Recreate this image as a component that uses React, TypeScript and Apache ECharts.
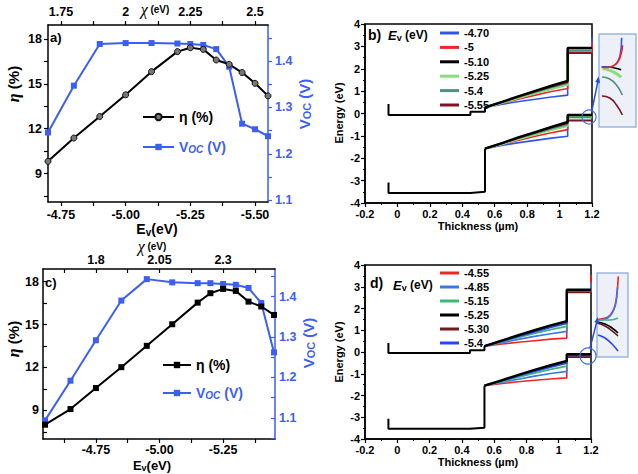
import React, { useEffect, useRef } from 'react';
import * as echarts from 'echarts';

const FONT = '"Liberation Sans", Arial, Helvetica, sans-serif';
const SERIF = '"Liberation Serif", "DejaVu Serif", serif';
const BLUE = '#3d5ef2';

// ---------- Panel a ----------
const aEv = [-4.7, -4.8, -4.9, -5.0, -5.1, -5.2, -5.25, -5.3, -5.35, -5.4, -5.45, -5.5, -5.55];
const aEta = [9.82, 11.38, 12.82, 14.27, 15.82, 17.16, 17.42, 17.31, 16.6, 16.31, 15.76, 15.04, 14.2];
const aVoc = [1.246, 1.347, 1.437, 1.439, 1.439, 1.438, 1.437, 1.435, 1.426, 1.388, 1.265, 1.253, 1.238];
const aEvLabels = [-4.75, -5.0, -5.25, -5.5];
const aEvTicks = [-4.75, -4.875, -5.0, -5.125, -5.25, -5.375, -5.5];
const aChiLabels = [1.75, 2, 2.25, 2.5];
const aChiTicks = [1.75, 1.875, 2, 2.125, 2.25, 2.375, 2.5];
const aEtaLabels = [9, 12, 15, 18];
const aEtaTicks = [7.5, 9, 10.5, 12, 13.5, 15, 16.5, 18];
const aVocLabels = [1.1, 1.2, 1.3, 1.4];
const aVocTicks = [1.1, 1.15, 1.2, 1.25, 1.3, 1.35, 1.4, 1.45];

// ---------- Panel c ----------
const cEv = [-4.55, -4.65, -4.75, -4.85, -4.95, -5.05, -5.15, -5.2, -5.25, -5.3, -5.35, -5.4, -5.45];
const cEta = [8.0, 9.09, 10.56, 12.02, 13.51, 15.02, 16.53, 17.19, 17.49, 17.35, 16.6, 16.26, 15.67];
const cVoc = [1.094, 1.192, 1.292, 1.39, 1.443, 1.435, 1.433, 1.433, 1.431, 1.429, 1.421, 1.384, 1.262];
const cEvLabels = [-4.75, -5.0, -5.25];
const cEvTicks = [-4.625, -4.75, -4.875, -5.0, -5.125, -5.25, -5.375];
const cChiLabels = [1.8, 2.05, 2.3];
const cChiTicks = [1.675, 1.8, 1.925, 2.05, 2.175, 2.3, 2.425];
const cEtaLabels = [9, 12, 15, 18];
const cEtaTicks = [7.5, 9, 10.5, 12, 13.5, 15, 16.5, 18];
const cVocLabels = [1.1, 1.2, 1.3, 1.4];
const cVocTicks = [1.05, 1.1, 1.15, 1.2, 1.25, 1.3, 1.35, 1.4, 1.45];

// ---------- Band diagrams (b, d) ----------
const bandX = [0.54, 0.65, 0.75, 0.85, 0.95, 1.05];
const leftX = [-0.055, -0.055, 0.45, 0.45, 0.54, 0.54];

const bLabels = ['-4.70', '-5', '-5.10', '-5.25', '-5.4', '-5.55'];
const bColors = ['#2f55ea', '#f02626', '#000000', '#86e07a', '#4f8f88', '#7d1426'];
const bWidths = [1.6, 1.6, 2.4, 3, 1.6, 1.6];
const bCB = [
  [0.27, 0.42, 0.54, 0.64, 0.74, 0.82],
  [0.27, 0.47, 0.65, 0.82, 0.98, 1.12],
  [0.27, 0.53, 0.78, 1.01, 1.24, 1.46],
  [0.27, 0.5, 0.72, 0.92, 1.12, 1.3],
  [0.27, 0.51, 0.74, 0.95, 1.16, 1.35],
  [0.27, 0.52, 0.76, 0.98, 1.2, 1.4],
];
const bVB = [
  [-1.57, -1.42, -1.3, -1.2, -1.1, -1.02],
  [-1.57, -1.37, -1.19, -1.02, -0.86, -0.72],
  [-1.57, -1.31, -1.06, -0.83, -0.6, -0.38],
  [-1.57, -1.34, -1.12, -0.92, -0.72, -0.54],
  [-1.57, -1.33, -1.1, -0.89, -0.68, -0.49],
  [-1.57, -1.32, -1.08, -0.86, -0.64, -0.44],
];
const bCBTop = [2.93, 2.72, 2.93, 2.84, 2.8, 2.7];
const bVBTop = [-0.07, -0.3, -0.07, -0.14, -0.18, -0.32];
const bSpike = [3.4, 3.2, null, null, null, null];
const bOrder = [0, 1, 3, 4, 5, 2];
const bCBLeft = [0.42, -0.07, -0.07, 0.08, 0.08, 0.27];
const bVBLeft = [-3.08, -3.55, -3.55, -3.52, -3.5, -1.57];

const dLabels = ['-4.55', '-4.85', '-5.15', '-5.25', '-5.30', '-5.4'];
const dColors = ['#f02626', '#3a78e6', '#3cb878', '#000000', '#6e1a1a', '#2a44f5'];
const dWidths = [1.6, 1.6, 1.8, 2.4, 1.8, 1.8];
const dCB = [
  [0.27, 0.37, 0.45, 0.52, 0.59, 0.64],
  [0.27, 0.43, 0.58, 0.72, 0.84, 0.95],
  [0.27, 0.47, 0.67, 0.86, 1.03, 1.18],
  [0.27, 0.53, 0.77, 1.0, 1.22, 1.42],
  [0.27, 0.51, 0.74, 0.96, 1.17, 1.36],
  [0.27, 0.5, 0.72, 0.93, 1.13, 1.32],
];
const dVB = [
  [-1.55, -1.45, -1.37, -1.3, -1.24, -1.19],
  [-1.55, -1.39, -1.25, -1.11, -0.99, -0.89],
  [-1.55, -1.36, -1.16, -0.97, -0.8, -0.65],
  [-1.55, -1.29, -1.05, -0.82, -0.61, -0.41],
  [-1.55, -1.31, -1.08, -0.86, -0.65, -0.47],
  [-1.55, -1.32, -1.1, -0.89, -0.69, -0.51],
];
const dCBTop = [2.76, 2.8, 2.8, 2.86, 2.74, 2.82];
const dVBTop = [-0.22, -0.16, -0.15, -0.1, -0.24, -0.15];
const dSpike = [3.55, 3.2, null, null, null, null];
const dOrder = [0, 1, 2, 4, 5, 3];
const dCBLeft = [0.41, -0.05, -0.05, 0.08, 0.08, 0.27];
const dVBLeft = [-3.07, -3.53, -3.53, -3.5, -3.48, -1.55];

// ---------- Insets (zoom near x = 1.2 µm, valence band) ----------
const ibSeries = [
  { c: 4, x: [1.1732, 1.1816, 1.1889, 1.1953], y: [-0.062, -0.084, -0.148, -0.256] },
  { c: 5, x: [1.1732, 1.1816, 1.1889, 1.1953], y: [-0.267, -0.288, -0.363, -0.471] },
  { c: 3, x: [1.174, 1.18, 1.187, 1.194], y: [0.03, 0.015, -0.015, -0.065] },
  { c: 2, x: [1.173, 1.18, 1.187, 1.194], y: [0.045, 0.045, 0.035, 0.015] },
  { c: 0, x: [1.173, 1.18, 1.186, 1.19, 1.193, 1.1945], y: [0.045, 0.045, 0.06, 0.1, 0.18, 0.36] },
  { c: 1, x: [1.173, 1.18, 1.186, 1.191, 1.194, 1.1955], y: [0.04, 0.04, 0.06, 0.11, 0.19, 0.28] },
];
const idSeries = [
  { c: 0, x: [1.172, 1.18, 1.187, 1.192, 1.195, 1.1975], y: [-0.15, -0.14, -0.1, -0.02, 0.1, 0.36] },
  { c: 1, x: [1.172, 1.18, 1.187, 1.192, 1.195, 1.1965], y: [-0.16, -0.15, -0.11, -0.03, 0.08, 0.23] },
  { c: 4, x: [1.17, 1.1803, 1.1894, 1.1971], y: [-0.195, -0.231, -0.29, -0.35] },
  { c: 3, x: [1.17, 1.1803, 1.1894, 1.1971], y: [-0.183, -0.207, -0.255, -0.314] },
  { c: 2, x: [1.1739, 1.1868, 1.1971], y: [-0.16, -0.16, -0.136] },
  { c: 5, x: [1.1713, 1.1803, 1.1894, 1.1971], y: [-0.338, -0.374, -0.445, -0.529] },
];

const pairs = (xs: number[], ys: number[]) => xs.map((x, i) => [x, ys[i]]);

const lblBase = { fontFamily: FONT, fontWeight: 'bold' as const, color: '#000' };
const blackLine = { show: true, onZero: false, lineStyle: { color: '#000', width: 1.5 } };
const blueLine = { show: true, onZero: false, lineStyle: { color: BLUE, width: 1.5 } };

function customAxis(o: any) {
  const color = o.color || '#000';
  return {
    gridIndex: o.grid,
    type: 'value',
    position: o.position,
    min: o.min,
    max: o.max,
    inverse: !!o.inverse,
    axisLine: color === '#000' ? blackLine : blueLine,
    axisTick: { show: true, inside: !!o.inside, length: 4, customValues: o.ticks, lineStyle: { color, width: 1.2 } },
    axisLabel: {
      show: true,
      customValues: o.labels,
      formatter: o.fmt,
      fontSize: 12.5,
      margin: o.margin,
      ...lblBase,
      color,
    },
    splitLine: { show: false },
  };
}

function bandXAxis(grid: number) {
  return {
    gridIndex: grid,
    type: 'value',
    min: -0.2,
    max: 1.2,
    interval: 0.2,
    axisLine: blackLine,
    axisTick: { show: true, length: 4, lineStyle: { color: '#000', width: 1.2 } },
    minorTick: { show: true, splitNumber: 2, length: 2, lineStyle: { color: '#000', width: 1 } },
    axisLabel: { fontSize: 11, margin: 5, ...lblBase, formatter: (v: number) => String(Math.round(v * 10) / 10) },
    splitLine: { show: false },
  };
}
function bandYAxis(grid: number) {
  return {
    gridIndex: grid,
    type: 'value',
    min: -4,
    max: 4,
    interval: 1,
    axisLine: blackLine,
    axisTick: { show: true, length: 4, lineStyle: { color: '#000', width: 1.2 } },
    minorTick: { show: true, splitNumber: 2, length: 2, lineStyle: { color: '#000', width: 1 } },
    axisLabel: { fontSize: 11, margin: 5, ...lblBase, formatter: (v: number) => String(Math.round(v)) },
    splitLine: { show: false },
  };
}

function bandSeries(
  prefix: string, axis: number, colors: string[], widths: number[],
  cb: number[][], vb: number[][], cbTop: number[], vbTop: number[],
  spike: (number | null)[], order: number[], cbLeft: number[], vbLeft: number[]
) {
  const out: any[] = [];
  order.forEach((i) => {
    const cbData: any[] = pairs(bandX, cb[i]);
    cbData.push([1.05, cbTop[i]], [1.2, cbTop[i]]);
    if (spike[i] != null) cbData.push([1.2, spike[i]]);
    const vbData: any[] = pairs(bandX, vb[i]);
    vbData.push([1.05, vbTop[i]], [1.2, vbTop[i]]);
    const common = {
      type: 'line', name: prefix + i, xAxisIndex: axis, yAxisIndex: axis, symbol: 'none',
      color: colors[i], lineStyle: { color: colors[i], width: widths[i] }, clip: false,
    };
    out.push({ ...common, data: cbData }, { ...common, data: vbData });
  });
  const base = {
    type: 'line', name: prefix + 'base', xAxisIndex: axis, yAxisIndex: axis, symbol: 'none',
    color: '#000', lineStyle: { color: '#000', width: 2 }, clip: false,
  };
  out.push({ ...base, data: pairs(leftX, cbLeft) }, { ...base, data: pairs(leftX, vbLeft) });
  return out;
}

function insetSeries(prefix: string, axis: number, list: any[], colors: string[]) {
  return list.map((s, k) => ({
    type: 'line', name: prefix + k, xAxisIndex: axis, yAxisIndex: axis, symbol: 'none', smooth: true,
    data: pairs(s.x, s.y), color: colors[s.c],
    lineStyle: { color: colors[s.c], width: colors[s.c] === '#86e07a' ? 3 : 1.6 },
  }));
}

const rb = (size: number, color = '#000', extra: any = {}) => ({
  fontFamily: FONT, fontWeight: 'bold', fontSize: size, fill: color, color, ...extra,
});

function T(x: number, y: number, text: string, rich: any, opts: any = {}) {
  return {
    type: 'text', x, y, rotation: opts.rot || 0, z: 100,
    style: {
      text, rich, align: opts.align || 'center', verticalAlign: 'middle',
      fontFamily: FONT, fontWeight: 'bold', fontSize: 13, fill: '#000',
    },
  };
}

function buildOption(): any {
  const etaRich = { i: rb(16, '#000', { fontStyle: 'italic', fontFamily: SERIF }), n: rb(15) };
  const vocRich = { n: rb(15, BLUE), s: rb(11, BLUE, { padding: [6, 0, 0, 0] }) };
  const chiRich = { i: rb(16, '#000', { fontStyle: 'italic', fontFamily: SERIF, fontWeight: 'normal' }), s: rb(10) };
  const evRich = { n: rb(14), s: rb(10, '#000', { padding: [6, 0, 0, 0] }) };
  const evRichC = { n: rb(13), s: rb(9, '#000', { padding: [5, 0, 0, 0] }) };
  const bandEvRich = {
    i: rb(13, '#000', { fontStyle: 'italic' }),
    s: rb(9, '#000', { padding: [6, 0, 0, 0] }),
    n: rb(12),
  };
  const legRich = {
    k: { ...lblBase, fontSize: 14, lineHeight: 16, color: '#000' },
    b: { ...lblBase, fontSize: 14, lineHeight: 16, color: BLUE },
    bs: { ...lblBase, fontSize: 10, color: BLUE, fontStyle: 'italic', padding: [5, 0, 0, 0] },
  };
  const legFmt = (n: string) => (n.startsWith('eta') ? '{k|η (%)}' : '{b|V}{bs|OC}{b| (V)}');

  const str = (v: number) => String(v);
  const fix2 = (v: number) => v.toFixed(2);
  const fix1 = (v: number) => v.toFixed(1);

  return {
    animation: false,
    backgroundColor: '#ffffff',
    textStyle: { fontFamily: FONT },
    grid: [
      { left: 48, top: 25, width: 220, height: 177 },
      { left: 365, top: 24, width: 227, height: 179, show: true, borderColor: '#000', borderWidth: 1.5, backgroundColor: 'transparent' },
      { left: 43, top: 269, width: 232, height: 170 },
      { left: 365, top: 265, width: 226, height: 174, show: true, borderColor: '#000', borderWidth: 1.5, backgroundColor: 'transparent' },
      { left: 599, top: 34, width: 37, height: 93, show: true, backgroundColor: '#edf0f6', borderColor: '#9bb6e4', borderWidth: 1.5 },
      { left: 597, top: 273, width: 31, height: 84, show: true, backgroundColor: '#edf0f6', borderColor: '#9bb6e4', borderWidth: 1.5 },
    ],
    xAxis: [
      customAxis({ grid: 0, position: 'bottom', min: -5.55, max: -4.7, inverse: true, ticks: aEvTicks, labels: aEvLabels, fmt: fix2, margin: 6 }),
      customAxis({ grid: 0, position: 'top', min: 1.7, max: 2.55, ticks: aChiTicks, labels: aChiLabels, fmt: str, margin: 7 }),
      bandXAxis(1),
      customAxis({ grid: 2, position: 'bottom', min: -5.454, max: -4.542, inverse: true, ticks: cEvTicks, labels: cEvLabels, fmt: fix2, margin: 4 }),
      customAxis({ grid: 2, position: 'top', min: 1.592, max: 2.504, ticks: cChiTicks, labels: cChiLabels, fmt: str, margin: 3, inside: true }),
      bandXAxis(3),
      { gridIndex: 4, type: 'value', min: 1.17, max: 1.21, show: false },
      { gridIndex: 5, type: 'value', min: 1.17, max: 1.21, show: false },
    ],
    yAxis: [
      customAxis({ grid: 0, position: 'left', min: 7.1, max: 18.94, ticks: aEtaTicks, labels: aEtaLabels, fmt: str, margin: 6 }),
      customAxis({ grid: 0, position: 'right', min: 1.096, max: 1.478, ticks: aVocTicks, labels: aVocLabels, fmt: fix1, margin: 7, color: BLUE }),
      bandYAxis(1),
      customAxis({ grid: 2, position: 'left', min: 7.0, max: 18.88, ticks: cEtaTicks, labels: cEtaLabels, fmt: str, margin: 4, inside: true }),
      customAxis({ grid: 2, position: 'right', min: 1.048, max: 1.468, ticks: cVocTicks, labels: cVocLabels, fmt: fix1, margin: 4, color: BLUE, inside: true }),
      bandYAxis(3),
      { gridIndex: 4, type: 'value', min: -0.6, max: 0.4, show: false },
      { gridIndex: 5, type: 'value', min: -0.6, max: 0.4, show: false },
    ],
    legend: [
      {
        left: 137, top: 104, orient: 'vertical', itemWidth: 31, itemHeight: 8, itemGap: 14, selectedMode: false,
        data: ['etaA', 'vocA'], formatter: legFmt, textStyle: { rich: legRich, lineHeight: 16 },
      },
      {
        left: 157, top: 352, orient: 'vertical', itemWidth: 28, itemHeight: 8, itemGap: 12, selectedMode: false,
        data: ['etaC', 'vocC'], formatter: legFmt, textStyle: { rich: legRich, lineHeight: 16 },
      },
      {
        left: 435, top: 21, orient: 'vertical', icon: 'rect', itemWidth: 19, itemHeight: 3, itemGap: 0.4, selectedMode: false,
        data: bLabels.map((_, i) => 'b' + i),
        formatter: (n: string) => bLabels[Number(n.slice(1))],
        textStyle: { ...lblBase, fontSize: 11, lineHeight: 14 },
      },
      {
        left: 435, top: 261, orient: 'vertical', icon: 'rect', itemWidth: 19, itemHeight: 3, itemGap: 0, selectedMode: false,
        data: dLabels.map((_, i) => 'd' + i),
        formatter: (n: string) => dLabels[Number(n.slice(1))],
        textStyle: { ...lblBase, fontSize: 11, lineHeight: 14 },
      },
    ],
    series: [
      {
        type: 'line', name: 'vocA', xAxisIndex: 0, yAxisIndex: 1, data: pairs(aEv, aVoc),
        symbol: 'rect', symbolSize: 6, color: BLUE, lineStyle: { color: BLUE, width: 2 }, itemStyle: { color: BLUE },
      },
      {
        type: 'line', name: 'etaA', xAxisIndex: 0, yAxisIndex: 0, data: pairs(aEv, aEta),
        symbol: 'circle', symbolSize: 6, color: '#000', lineStyle: { color: '#000', width: 2 },
        itemStyle: { color: '#777', borderColor: '#111', borderWidth: 1 },
      },
      {
        type: 'line', name: 'vocC', xAxisIndex: 3, yAxisIndex: 4, data: pairs(cEv, cVoc),
        symbol: 'rect', symbolSize: 6, color: BLUE, lineStyle: { color: BLUE, width: 2 }, itemStyle: { color: BLUE },
      },
      {
        type: 'line', name: 'etaC', xAxisIndex: 3, yAxisIndex: 3, data: pairs(cEv, cEta),
        symbol: 'rect', symbolSize: 6, color: '#000', lineStyle: { color: '#000', width: 2 }, itemStyle: { color: '#000' },
      },
      ...bandSeries('b', 2, bColors, bWidths, bCB, bVB, bCBTop, bVBTop, bSpike, bOrder, bCBLeft, bVBLeft),
      ...bandSeries('d', 5, dColors, dWidths, dCB, dVB, dCBTop, dVBTop, dSpike, dOrder, dCBLeft, dVBLeft),
      ...insetSeries('ib', 6, ibSeries, bColors),
      ...insetSeries('id', 7, idSeries, dColors),
    ],
    graphic: [
      T(50, 37, '{n|a)}', { n: rb(13) }, { align: 'left' }),
      T(368, 35, '{n|b)}', { n: rb(14) }, { align: 'left' }),
      T(388, 35, '{i|E}{s|v}{n| (eV)}', bandEvRich, { align: 'left' }),
      T(45, 282, '{n|c)}', { n: rb(13) }, { align: 'left' }),
      T(370, 283, '{n|d)}', { n: rb(14) }, { align: 'left' }),
      T(393, 285, '{i|E}{s|v}{n| (eV)}', bandEvRich, { align: 'left' }),
      T(13, 84, '{i|η}{n| (%)}', etaRich, { rot: Math.PI / 2 }),
      T(304, 104, '{n|V}{s|OC}{n| (V)}', vocRich, { rot: Math.PI / 2 }),
      T(13, 339, '{i|η}{n| (%)}', etaRich, { rot: Math.PI / 2 }),
      T(308, 343, '{n|V}{s|OC}{n| (V)}', vocRich, { rot: Math.PI / 2 }),
      T(155, 9, '{i|χ}{s| (eV)}', chiRich),
      T(152, 246, '{i|χ}{s| (eV)}', chiRich),
      T(157, 229, '{n|E}{s|v}{n|(eV)}', evRich),
      T(152, 465, '{n|E}{s|v}{n|(eV)}', evRichC),
      T(339, 113, '{n|Energy (eV)}', { n: rb(11) }, { rot: Math.PI / 2 }),
      T(339, 352, '{n|Energy (eV)}', { n: rb(11) }, { rot: Math.PI / 2 }),
      T(478, 226, '{n|Thickness (µm)}', { n: rb(11) }),
      T(478, 462, '{n|Thickness (µm)}', { n: rb(11) }),
      { type: 'circle', z: 100, shape: { cx: 589, cy: 117, r: 7 }, style: { fill: 'none', stroke: '#3a6ee8', lineWidth: 1.2 } },
      { type: 'line', z: 100, shape: { x1: 592, y1: 110, x2: 598, y2: 81 }, style: { stroke: '#2a4fd8', lineWidth: 1.5 } },
      { type: 'polygon', z: 100, shape: { points: [[598.5, 76.5], [600.2, 83], [595.2, 82]] }, style: { fill: '#2a4fd8' } },
      { type: 'circle', z: 100, shape: { cx: 588, cy: 356, r: 8 }, style: { fill: 'none', stroke: '#3a6ee8', lineWidth: 1.2 } },
      { type: 'line', z: 100, shape: { x1: 590, y1: 348, x2: 597, y2: 321 }, style: { stroke: '#2a4fd8', lineWidth: 1.5 } },
      { type: 'polygon', z: 100, shape: { points: [[597.8, 317], [599.3, 323.5], [594.3, 322.3]] }, style: { fill: '#2a4fd8' } },
    ],
  };
}

export default function App() {
  const ref = useRef<HTMLDivElement>(null);
  useEffect(() => {
    document.body.style.margin = '0';
    const chart = echarts.init(ref.current!, undefined, { renderer: 'svg' });
    chart.setOption(buildOption());
    return () => chart.dispose();
  }, []);
  return <div ref={ref} style={{ width: 638, height: 474, background: '#fff' }} />;
}
